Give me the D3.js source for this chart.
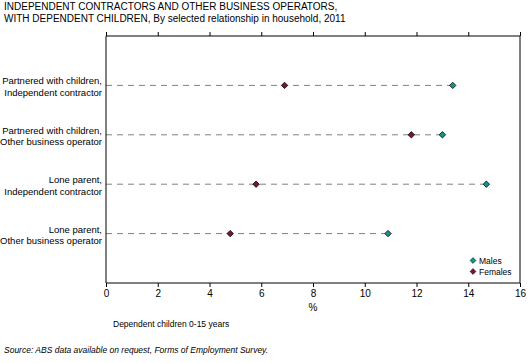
<!DOCTYPE html>
<html>
<head>
<meta charset="utf-8">
<script src="https://cdn.jsdelivr.net/npm/d3@7"></script>
<style>
  body { margin: 0; background: #fff; }
  svg { display: block; font-family: "Liberation Sans", Arial, sans-serif; }
</style>
</head>
<body>
<svg id="chart" width="529" height="363"></svg>
<script>
const categories = [
  "Partnered with children,|Independent contractor",
  "Partnered with children,|Other business operator",
  "Lone parent,|Independent contractor",
  "Lone parent,|Other business operator"
];
const males = [13.4, 13.0, 14.7, 10.9];
const females = [6.9, 11.8, 5.8, 4.8];
const xTicks = [0, 2, 4, 6, 8, 10, 12, 14, 16];
const titleLines = [
  "INDEPENDENT CONTRACTORS AND OTHER BUSINESS OPERATORS,",
  "WITH DEPENDENT CHILDREN, By selected relationship in household, 2011"
];

(function () {
  const svg = d3.select("#chart");
  const plotLeft = 106, plotRight = 520, plotTop = 36, plotBottom = 283;
  const maleColor = "#13958a";
  const femaleColor = "#7b1240";

  const x = d3.scaleLinear().domain([0, 16]).range([plotLeft, plotRight]);
  const y = d3.scalePoint().domain(categories).range([plotTop, plotBottom]).padding(1);

  svg.append("g").selectAll("text").data(titleLines).join("text")
    .attr("x", 4).attr("y", (d, i) => 10 + i * 11.5)
    .attr("font-size", 10).attr("fill", "#000").text(d => d);

  // dashed guide lines out to the furthest marker
  svg.append("g").selectAll("line").data(categories).join("line")
    .attr("x1", plotLeft).attr("x2", (d, i) => x(Math.max(males[i], females[i])))
    .attr("y1", d => y(d)).attr("y2", d => y(d))
    .attr("stroke", "#808080").attr("stroke-dasharray", "6,5");

  // frame
  svg.append("line").attr("x1", plotRight).attr("x2", plotRight)
    .attr("y1", plotTop).attr("y2", plotBottom).attr("stroke", "#000");
  const topAxis = svg.append("g").attr("transform", `translate(0,${plotTop})`)
    .call(d3.axisTop(x).tickValues(xTicks).tickSize(4).tickFormat(""));
  topAxis.select(".domain").attr("d", `M${plotLeft},0H${plotRight}`);
  const bottomAxis = svg.append("g").attr("transform", `translate(0,${plotBottom})`)
    .call(d3.axisBottom(x).tickValues(xTicks).tickSize(4).tickPadding(3));
  bottomAxis.select(".domain").attr("d", `M${plotLeft},0H${plotRight}`);
  bottomAxis.selectAll("text").attr("font-size", 10)
    .attr("font-family", "Liberation Sans, Arial, sans-serif");
  const leftAxis = svg.append("g").attr("transform", `translate(${plotLeft},0)`)
    .call(d3.axisLeft(y).tickSize(0).tickFormat(""));
  leftAxis.select(".domain").attr("d", `M0,${plotTop}V${plotBottom}`);

  // category labels, two lines each
  const lab = svg.append("g").selectAll("text").data(categories).join("text")
    .attr("x", plotLeft - 4).attr("y", d => y(d) - 1)
    .attr("text-anchor", "end").attr("font-size", 9.5).attr("fill", "#000");
  lab.selectAll("tspan").data(d => d.split("|")).join("tspan")
    .attr("x", plotLeft - 4).attr("dy", (d, i) => i === 0 ? "0" : "11.5").text(d => d);

  const marker = d3.symbol().type(d3.symbolDiamond2).size(26);

  svg.append("g").selectAll("path").data(categories).join("path")
    .attr("transform", (d, i) => `translate(${x(females[i])},${y(d)})`)
    .attr("d", marker).attr("fill", femaleColor).attr("stroke", "#000").attr("stroke-width", 0.8);
  svg.append("g").selectAll("path").data(categories).join("path")
    .attr("transform", (d, i) => `translate(${x(males[i])},${y(d)})`)
    .attr("d", marker).attr("fill", maleColor).attr("stroke", "#000").attr("stroke-width", 0.8);

  // legend
  const legend = [["Males", maleColor], ["Females", femaleColor]];
  const lg = svg.append("g").selectAll("g").data(legend).join("g")
    .attr("transform", (d, i) => `translate(473,${260.5 + i * 11})`);
  lg.append("path").attr("d", d3.symbol().type(d3.symbolDiamond2).size(22))
    .attr("fill", d => d[1]).attr("stroke", "#000").attr("stroke-width", 0.5);
  lg.append("text").attr("x", 6).attr("y", 3.5).attr("font-size", 8.5).text(d => d[0]);

  svg.append("text").attr("x", x(8)).attr("y", 311).attr("text-anchor", "middle")
    .attr("font-size", 10).text("%");
  svg.append("text").attr("x", 113).attr("y", 327).attr("font-size", 8.5)
    .text("Dependent children 0-15 years");
  svg.append("text").attr("x", 4).attr("y", 353).attr("font-size", 8.5)
    .attr("font-style", "italic")
    .text("Source: ABS data available on request, Forms of Employment Survey.");
})();
</script>
</body>
</html>
